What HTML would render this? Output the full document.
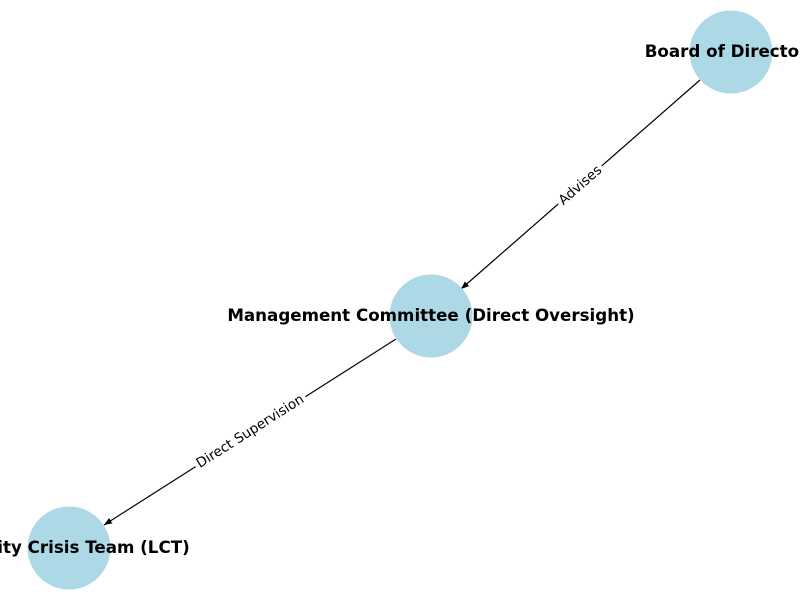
<!DOCTYPE html>
<html><head><meta charset="utf-8"><style>
html,body{margin:0;padding:0;background:#fff;width:800px;height:600px;overflow:hidden}
svg{display:block}
</style></head><body>
<svg width="800" height="600" viewBox="0 0 800 600" xmlns="http://www.w3.org/2000/svg">
<defs>
<marker id="a" viewBox="0 0 10 10" refX="10" refY="5" markerWidth="8" markerHeight="8" markerUnits="userSpaceOnUse" orient="auto">
<path d="M0,1 L10,5 L0,9 z" fill="#000"/></marker>
</defs>
<line x1="700" y1="80" x2="461" y2="289" stroke="#000" stroke-width="1.2" marker-end="url(#a)"/>
<line x1="396" y1="339" x2="104" y2="525" stroke="#000" stroke-width="1.2" marker-end="url(#a)"/>
<circle cx="731" cy="52" r="41.5" fill="#add8e6"/>
<circle cx="431" cy="316" r="41.5" fill="#add8e6"/>
<circle cx="69" cy="548" r="41.5" fill="#add8e6"/>
<g font-family="DejaVu Sans, Liberation Sans, sans-serif" font-size="13.6">
<g transform="translate(580,185) rotate(-41.2)">
<rect x="-29" y="-9" width="58" height="18" fill="#fff"/>
<text x="0" y="4.5" text-anchor="middle">Advises</text></g>
<g transform="translate(250,431) rotate(-32.5)">
<rect x="-65" y="-9" width="130" height="18" fill="#fff"/>
<text x="0" y="4.5" text-anchor="middle">Direct Supervision</text></g>
</g>
<g font-family="DejaVu Sans, Liberation Sans, sans-serif" font-size="16.7" font-weight="bold">
<text x="731" y="57" text-anchor="middle">Board of Directors</text>
<text x="431" y="321" text-anchor="middle">Management Committee (Direct Oversight)</text>
<text x="69" y="553" text-anchor="middle">Locality Crisis Team (LCT)</text>
</g>
</svg>
</body></html>
